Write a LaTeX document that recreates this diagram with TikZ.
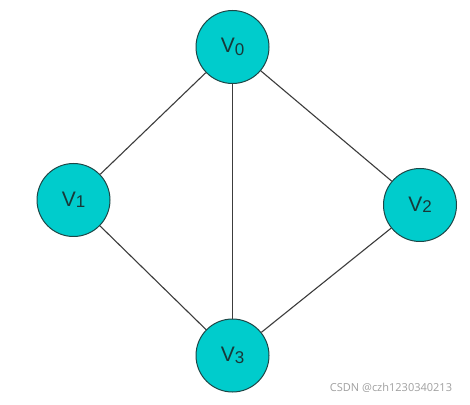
\documentclass[tikz,border=0pt]{standalone}
\usepackage{fontspec}
\setmainfont{Liberation Sans}
\newfontfamily\wmfont{Open Sans}
\definecolor{vfill}{RGB}{0,204,204}
\definecolor{vdraw}{RGB}{30,70,70}
\definecolor{edgec}{RGB}{60,60,60}
\definecolor{wmc}{RGB}{160,160,160}
\begin{document}
\begin{tikzpicture}[x=1pt,y=1pt,
  vert/.style={circle,fill=vfill,draw=vdraw,line width=1pt,minimum size=73pt,inner sep=0pt,font=\fontsize{21}{23}\selectfont,text=vdraw!80!black},
  edge/.style={draw=edgec,line width=1.1pt}]
\useasboundingbox (0,0) rectangle (470,404);
\fill[white] (0,0) rectangle (470,404);
\node[vert] (v0) at (232.5,357) {V\raisebox{-3pt}{\fontsize{17}{18}\selectfont 0}};
\node[vert] (v1) at (73.5,204) {V\raisebox{-1.5pt}{\fontsize{17}{18}\selectfont 1}};
\node[vert] (v2) at (420,199) {V\raisebox{-1.5pt}{\fontsize{17}{18}\selectfont 2}};
\node[vert] (v3) at (232.5,48.5) {V\raisebox{-1.5pt}{\fontsize{17}{18}\selectfont 3}};
\draw[edge] (v0) -- (v1);
\draw[edge] (v0) -- (v3);
\draw[edge] (v0) -- (v2);
\draw[edge] (v1) -- (v3);
\draw[edge] (v2) -- (v3);
\node[text=wmc,font=\wmfont\fontsize{11}{12}\selectfont,inner sep=0pt] (wm) at (391,16) {CSDN @czh1230340213};
\end{tikzpicture}
\end{document}
